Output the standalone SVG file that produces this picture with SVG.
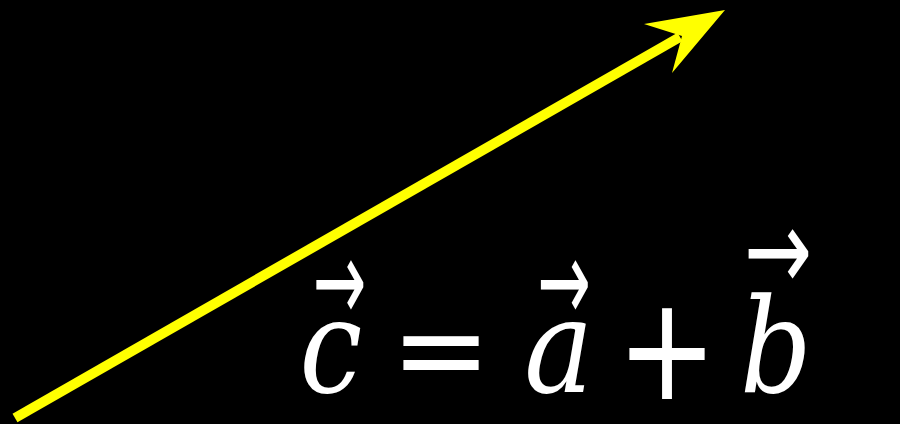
<svg xmlns="http://www.w3.org/2000/svg" width="900" height="424" viewBox="0 0 900 424">
<style>
.v{font-family:"DejaVu Serif",serif;font-style:italic;font-size:132px;fill:#fff;text-anchor:middle}
.op{font-family:"DejaVu Sans",sans-serif;font-size:120px;fill:#fff;text-anchor:middle}
.ar{font-family:"DejaVu Sans",sans-serif;font-size:64px;fill:#fff;text-anchor:middle}
</style>
<rect width="900" height="424" fill="#000"/>
<g id="connectors">
<line x1="15" y1="418" x2="680" y2="37" stroke="#ffff00" stroke-width="10"/>
<polygon points="725,10 644,24 682,36 672,73" fill="#ffff00"/>
</g>
<g id="equation">
<text class="v" x="0" y="0" transform="translate(331,392) scale(0.85,1)">c</text>
<text class="ar" x="0" y="15.5" transform="translate(339.5,293) scale(1,1.8)">→</text>
<text class="op" x="441" y="391">=</text>
<text class="v" x="0" y="0" transform="translate(559,392) scale(0.88,1)">a</text>
<text class="ar" x="0" y="15.5" transform="translate(564,293) scale(1,1.8)">→</text>
<text class="op" x="667" y="391" transform="translate(0,-69.8) scale(1,1.2)">+</text>
<text class="v" x="0" y="0" transform="translate(776,392) scale(0.85,1)">b</text>
<text class="ar" x="0" y="15.5" transform="translate(778,262) scale(1.27,1.8)">→</text>
</g>
</svg>
